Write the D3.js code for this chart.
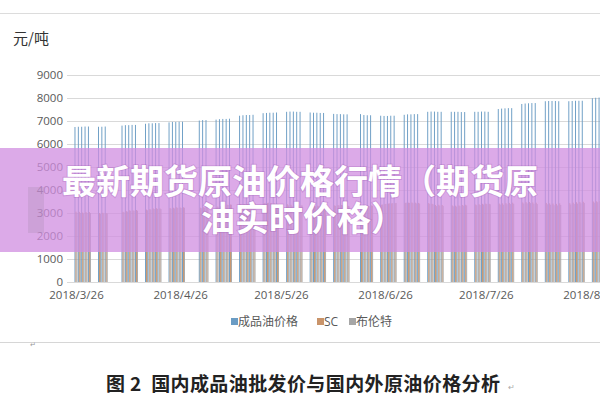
<!DOCTYPE html>
<html>
<head>
<meta charset="utf-8">
<script src="https://cdn.jsdelivr.net/npm/d3@7"></script>
<style>
  body { margin: 0; background: #fff; }
  svg { display: block; font-family: "Open Sans", "Noto Sans CJK SC", sans-serif; }
</style>
</head>
<body>
<svg id="chart"></svg>
<script>
// trading days (weeks on one line each)
var days = [
  "2018-03-26","2018-03-27","2018-03-28","2018-03-29","2018-03-30",
  "2018-04-02","2018-04-03","2018-04-04",
  "2018-04-09","2018-04-10","2018-04-11","2018-04-12","2018-04-13",
  "2018-04-16","2018-04-17","2018-04-18","2018-04-19","2018-04-20",
  "2018-04-23","2018-04-24","2018-04-25","2018-04-26","2018-04-27",
  "2018-05-02","2018-05-03","2018-05-04",
  "2018-05-07","2018-05-08","2018-05-09","2018-05-10","2018-05-11",
  "2018-05-14","2018-05-15","2018-05-16","2018-05-17","2018-05-18",
  "2018-05-21","2018-05-22","2018-05-23","2018-05-24","2018-05-25",
  "2018-05-28","2018-05-29","2018-05-30","2018-05-31","2018-06-01",
  "2018-06-04","2018-06-05","2018-06-06","2018-06-07","2018-06-08",
  "2018-06-11","2018-06-12","2018-06-13","2018-06-14","2018-06-15",
  "2018-06-19","2018-06-20","2018-06-21","2018-06-22",
  "2018-06-25","2018-06-26","2018-06-27","2018-06-28","2018-06-29",
  "2018-07-02","2018-07-03","2018-07-04","2018-07-05","2018-07-06",
  "2018-07-09","2018-07-10","2018-07-11","2018-07-12","2018-07-13",
  "2018-07-16","2018-07-17","2018-07-18","2018-07-19","2018-07-20",
  "2018-07-23","2018-07-24","2018-07-25","2018-07-26","2018-07-27",
  "2018-07-30","2018-07-31","2018-08-01","2018-08-02","2018-08-03",
  "2018-08-06","2018-08-07","2018-08-08","2018-08-09","2018-08-10",
  "2018-08-13","2018-08-14","2018-08-15","2018-08-16","2018-08-17",
  "2018-08-20","2018-08-21","2018-08-22","2018-08-23","2018-08-24",
  "2018-08-27","2018-08-28","2018-08-29","2018-08-30","2018-08-31"
];

var productOil = [
  6740,6750,6750,6760,6760,
  6750,6750,6760,
  6800,6820,6820,6830,6830,
  6880,6900,6900,6910,6910,
  6940,6960,6960,6970,6970,
  7020,7040,7040,
  7060,7080,7090,7090,7100,
  7230,7250,7260,7260,7270,
  7340,7350,7360,7360,7370,
  7400,7410,7410,7400,7400,
  7370,7360,7360,7350,7350,
  7310,7300,7300,7290,7290,
  7300,7260,7250,7250,
  7230,7220,7220,7230,7230,
  7270,7290,7290,7300,7300,
  7400,7410,7410,7400,7400,
  7400,7400,7400,7390,7390,
  7400,7400,7410,7410,7400,
  7520,7540,7550,7560,7560,
  7740,7760,7770,7780,7780,
  7860,7870,7870,7870,7860,
  7860,7870,7880,7880,7880,
  7990,8010,8020,8020,8030
];

var sc = [
  3060,3050,3020,3040,3040,
  3000,3010,2990,
  3050,3080,3120,3110,3130,
  3150,3170,3200,3210,3200,
  3220,3230,3250,3240,3250,
  3230,3250,3260,
  3280,3300,3340,3360,3370,
  3380,3390,3400,3410,3420,
  3430,3440,3430,3420,3400,
  3380,3360,3350,3340,3330,
  3320,3310,3320,3330,3340,
  3330,3340,3350,3330,3310,
  3290,3300,3310,3330,
  3360,3390,3410,3420,3430,
  3440,3450,3460,3450,3440,
  3430,3400,3350,3360,3350,
  3330,3320,3330,3350,3360,
  3370,3380,3400,3410,3400,
  3410,3420,3430,3440,3450,
  3460,3470,3480,3460,3450,
  3440,3420,3410,3400,3420,
  3430,3450,3470,3480,3490,
  3500,3510,3520,3510,3520
];

var brent = [
  3010,3000,2980,3000,3000,
  2960,2970,2980,
  3030,3060,3090,3100,3100,
  3120,3150,3170,3180,3170,
  3190,3200,3220,3220,3230,
  3210,3230,3240,
  3270,3290,3330,3350,3360,
  3370,3390,3400,3410,3430,
  3440,3450,3420,3400,3380,
  3330,3300,3310,3320,3330,
  3300,3290,3300,3310,3320,
  3310,3330,3340,3320,3290,
  3260,3280,3290,3320,
  3370,3400,3420,3430,3440,
  3450,3440,3430,3420,3410,
  3400,3380,3300,3320,3310,
  3290,3280,3300,3320,3330,
  3340,3350,3370,3390,3380,
  3370,3360,3380,3390,3400,
  3410,3420,3430,3400,3390,
  3380,3360,3340,3330,3350,
  3370,3390,3410,3420,3440,
  3450,3470,3480,3470,3480
];

var seriesNames = ["成品油价格", "SC", "布伦特"];
var seriesColors = ["#6a9cc4", "#c9946a", "#a6a6a6"];
var xTicks = ["2018-03-26","2018-04-26","2018-05-26","2018-06-26","2018-07-26","2018-08-26"];
var yTicks = [0,1000,2000,3000,4000,5000,6000,7000,8000,9000];
var unitLabel = "元/吨";
var bannerLines = ["最新期货原油价格行情（期货原", "油实时价格）"];
var caption = "图 2  国内成品油批发价与国内外原油价格分析";

function drawChart() {
    var width = 600, height = 400;
    var svg = d3.select("#chart").attr("width", width).attr("height", height);
    var parse = d3.timeParse("%Y-%m-%d");

    var xScale = d3.scaleTime()
        .domain([parse(xTicks[0]), parse(xTicks[5])])
        .range([76, 590]);
    var yScale = d3.scaleLinear().domain([0, 9000]).range([282, 75]);

    // frame lines
    svg.append("line").attr("x1", 0).attr("x2", width).attr("y1", 13.5).attr("y2", 13.5)
        .attr("stroke", "#dcdcdc");
    svg.append("line").attr("x1", 0).attr("x2", width).attr("y1", 342.5).attr("y2", 342.5)
        .attr("stroke", "#d6d6d6");
    svg.append("text").attr("x", 30).attr("y", 347).attr("font-size", 7).attr("fill", "#999").text("↵");

    svg.append("text").attr("x", 13).attr("y", 44).attr("font-size", 15)
        .attr("font-family", "Noto Sans CJK SC").attr("fill", "#333").text(unitLabel);

    // grid + y labels
    var yAxis = d3.axisLeft(yScale).tickValues(yTicks).tickSize(-(width - 67)).tickPadding(4)
        .tickFormat(d3.format("d"));
    var gy = svg.append("g").attr("transform", "translate(67,0)").call(yAxis);
    gy.select(".domain").remove();
    gy.selectAll(".tick line").attr("stroke", "#d9d9d9");
    gy.selectAll(".tick text").attr("font-size", 11.5).attr("fill", "#595959")
        .attr("font-family", "Open Sans");

    // bars
    var rows = days.map(function(d, i) {
        return { date: parse(d), values: [productOil[i], sc[i], brent[i]] };
    });
    var bw = 1;
    seriesNames.forEach(function(name, s) {
        svg.append("g").selectAll("rect").data(rows).enter().append("rect")
            .attr("x", function(d) { return xScale(d.date) - 1.5 + s * bw; })
            .attr("width", bw * 0.95)
            .attr("y", function(d) { return yScale(d.values[s]); })
            .attr("height", function(d) { return yScale(0) - yScale(d.values[s]); })
            .attr("fill", seriesColors[s]);
    });

    // x axis
    var xAxis = d3.axisBottom(xScale)
        .tickValues(xTicks.map(parse))
        .tickSize(0).tickPadding(9)
        .tickFormat(d3.timeFormat("%Y/%-m/%-d"));
    var gx = svg.append("g").attr("transform", "translate(0,282)").call(xAxis);
    gx.select(".domain").attr("stroke", "#d9d9d9").attr("d", "M67,0.5H600");
    gx.selectAll(".tick text").attr("font-size", 11.5).attr("fill", "#595959")
        .attr("font-family", "Open Sans");

    // legend
    var legendX = [231, 317, 349];
    var lg = svg.append("g").attr("font-size", 12).attr("fill", "#595959");
    seriesNames.forEach(function(name, s) {
        lg.append("rect").attr("x", legendX[s]).attr("y", 318).attr("width", 7).attr("height", 7)
            .attr("fill", seriesColors[s]);
        lg.append("text").attr("x", legendX[s] + 7).attr("y", 326)
            .attr("font-family", s == 1 ? "Open Sans" : "Noto Sans CJK SC")
            .text(name);
    });

    // overlay banner
    svg.append("rect").attr("x", 0).attr("y", 148).attr("width", width).attr("height", 104)
        .attr("fill", "rgb(208,142,224)").attr("fill-opacity", 0.75);
    svg.append("rect").attr("x", 28).attr("y", 187).attr("width", 16).attr("height", 46)
        .attr("fill", "#8a7a90").attr("fill-opacity", 0.18);
    bannerLines.forEach(function(line, i) {
        svg.append("text").attr("x", i == 0 ? 300 : 303).attr("y", 194 + i * 37)
            .attr("text-anchor", "middle")
            .attr("font-family", "Noto Sans CJK SC").attr("font-weight", "bold")
            .attr("font-size", 34).attr("fill", "#fff")
            .style("paint-order", "stroke").attr("stroke", "rgba(150,80,170,0.25)").attr("stroke-width", 2)
            .text(line);
    });

    // caption
    svg.append("text").attr("x", 106).attr("y", 391)
        .attr("font-family", "Noto Sans CJK SC").attr("font-weight", "bold")
        .attr("font-size", 19).attr("letter-spacing", 0.4).attr("fill", "#222")
        .style("white-space", "pre")
        .text(caption);
    svg.append("text").attr("x", 508).attr("y", 390).attr("font-size", 8).attr("fill", "#aaa").text("↵");
}

drawChart();
</script>
</body>
</html>
